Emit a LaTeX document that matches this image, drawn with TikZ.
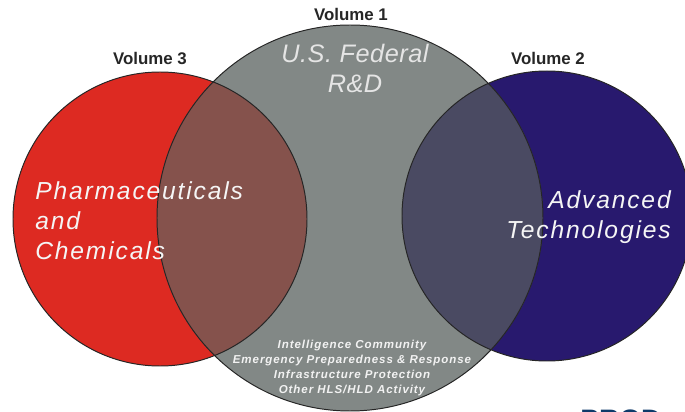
\documentclass[tikz,border=0pt]{standalone}
\usepackage{fontspec}
\setmainfont{Liberation Sans}
\newfontfamily\bigfont[LetterSpace=7.5]{Liberation Sans}
\newfontfamily\fedfont[LetterSpace=2]{Liberation Sans}
\newfontfamily\smallfont[LetterSpace=8]{Liberation Sans}
\definecolor{volred}{HTML}{DD2A22}
\definecolor{volgray}{HTML}{828886}
\definecolor{volnavy}{HTML}{28196E}
\definecolor{redgray}{HTML}{85524C}
\definecolor{navygray}{HTML}{4A4A62}
\definecolor{prodblue}{HTML}{0E3A6A}
\tikzset{
  voltitle/.style={font=\fontsize{12}{14}\selectfont\bfseries, text=black!85},
  bigtext/.style={font=\fontsize{17.5}{21.3}\selectfont\bigfont\itshape, text=white!96!black, inner sep=0pt},
  rim/.style={draw=black!85, line width=0.7pt}
}

\begin{document}
\begin{tikzpicture}[x=0.025cm, y=-0.025cm]
    \useasboundingbox (0,0) rectangle (685,412);
	\coordinate (R) at (160, 219);
    \coordinate (G) at (350, 218);
    \coordinate (N) at (547, 216);

	\fill [volred] (R) circle (147);
	\fill [volnavy] (N) circle (145);
	\fill [volgray] (G) circle (193);
	\begin{scope}
	  \clip (R) circle (147);
	  \fill [redgray] (G) circle (193);
	\end{scope}
	\begin{scope}
	  \clip (N) circle (145);
	  \fill [navygray] (G) circle (193);
	\end{scope}
	\draw [rim] (R) circle (147);
	\draw [rim] (N) circle (145);
	\draw [rim] (G) circle (193);

	\node [voltitle] (v3) at (150, 58) {Volume 3};
	\node [voltitle] (v1) at (351, 14) {Volume 1};
	\node [voltitle] (v2) at (548, 58) {Volume 2};

	\node [bigtext, align=left, anchor=west] (pharma) at (35, 221) {Pharmaceuticals\\and\\Chemicals};
	\node [bigtext, align=right, anchor=east] (advtech) at (671, 217) {Advanced\\Technologies};
	\node [font=\fontsize{18}{21.3}\selectfont\fedfont\itshape, text=white!90!black, align=center, inner sep=0pt] (fed) at (355, 68) {U.S. Federal\\R\&D};
	\node [font=\fontsize{8.2}{10.6}\selectfont\smallfont\bfseries\itshape, text=white!95!black, align=center, inner sep=0pt] (areas) at (352, 368) {Intelligence Community\\Emergency Preparedness \& Response\\Infrastructure Protection\\Other HLS/HLD Activity};

	\node [font=\fontsize{20}{24}\selectfont\bfseries, text=prodblue, anchor=north west, inner sep=0pt] (prod) at (580, 410) {PROD};
\end{tikzpicture}
\end{document}
